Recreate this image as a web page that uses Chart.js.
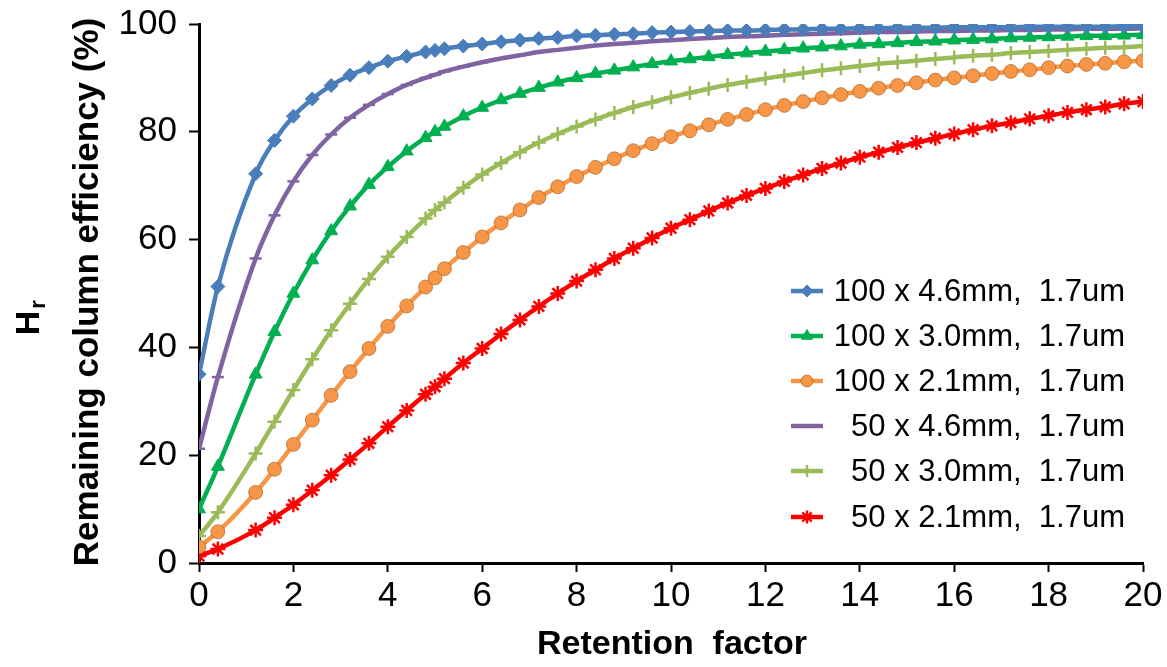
<!DOCTYPE html>
<html>
<head>
<meta charset="utf-8">
<script src="https://cdn.jsdelivr.net/npm/chart.js@4.4.1/dist/chart.umd.min.js"></script>
<style>
    html, body { margin: 0; padding: 0; background: #fff; }
    #wrap { width: 1167px; height: 667px; position: relative; }
</style>
</head>
<body>
<div id="wrap"><canvas id="hrChart"></canvas></div>
<script>
// retention factor k (x axis)
const retention = [0, 0.4, 1.2, 1.6, 2.0, 2.4, 2.8, 3.2, 3.6, 4.0, 4.4, 4.8, 5.0, 5.2, 5.6, 6.0, 6.4, 6.8, 7.2, 7.6,
    8.0, 8.4, 8.8, 9.2, 9.6, 10.0, 10.4, 10.8, 11.2, 11.6, 12.0, 12.4, 12.8, 13.2, 13.6, 14.0, 14.4, 14.8, 15.2, 15.6,
    16.0, 16.4, 16.8, 17.2, 17.6, 18.0, 18.4, 18.8, 19.2, 19.6, 20.0];

// remaining column efficiency Hr (%)
const col100x46 = [35.0, 51.3, 72.2, 78.4, 82.9, 86.1, 88.6, 90.5, 91.9, 93.1, 94.0, 94.8, 95.1, 95.4, 95.9, 96.3, 96.7, 97.0, 97.3, 97.5,
    97.8, 97.9, 98.1, 98.2, 98.4, 98.5, 98.6, 98.7, 98.8, 98.8, 98.9, 99.0, 99.0, 99.1, 99.1, 99.2, 99.2, 99.3, 99.3, 99.3,
    99.4, 99.4, 99.4, 99.4, 99.5, 99.5, 99.5, 99.5, 99.5, 99.6, 99.6];
const col100x30 = [10.0, 17.9, 35.0, 42.9, 50.0, 56.2, 61.6, 66.2, 70.2, 73.5, 76.4, 78.9, 80.0, 81.0, 82.9, 84.5, 85.9, 87.1, 88.2, 89.2,
    90.0, 90.8, 91.4, 92.0, 92.6, 93.1, 93.5, 93.9, 94.3, 94.6, 94.9, 95.2, 95.5, 95.7, 95.9, 96.2, 96.3, 96.5, 96.7, 96.8,
    97.0, 97.1, 97.2, 97.4, 97.5, 97.6, 97.7, 97.8, 97.8, 97.9, 98.0];
const col100x21 = [3.0, 5.8, 13.1, 17.4, 22.0, 26.5, 31.1, 35.5, 39.8, 43.9, 47.7, 51.2, 52.9, 54.6, 57.6, 60.5, 63.1, 65.5, 67.8, 69.8,
    71.7, 73.4, 75.0, 76.5, 77.8, 79.1, 80.2, 81.3, 82.3, 83.2, 84.1, 84.9, 85.6, 86.3, 86.9, 87.5, 88.1, 88.6, 89.1, 89.6,
    90.0, 90.4, 90.8, 91.2, 91.5, 91.9, 92.2, 92.5, 92.7, 93.0, 93.2];
const col50x46 = [21.2, 34.5, 56.5, 64.5, 70.8, 75.7, 79.5, 82.6, 85.0, 87.0, 88.7, 90.0, 90.6, 91.2, 92.1, 92.9, 93.6, 94.2, 94.8, 95.2,
    95.6, 96.0, 96.3, 96.5, 96.8, 97.0, 97.2, 97.4, 97.6, 97.7, 97.8, 98.0, 98.1, 98.2, 98.3, 98.4, 98.5, 98.5, 98.6, 98.7,
    98.7, 98.8, 98.8, 98.9, 98.9, 99.0, 99.0, 99.1, 99.1, 99.1, 99.2];
const col50x30 = [5.0, 9.4, 20.3, 26.2, 32.1, 37.8, 43.2, 48.1, 52.7, 56.8, 60.5, 63.9, 65.5, 66.9, 69.6, 72.1, 74.2, 76.2, 78.0, 79.6,
    81.0, 82.3, 83.5, 84.6, 85.5, 86.4, 87.2, 88.0, 88.7, 89.3, 89.9, 90.4, 90.9, 91.4, 91.8, 92.2, 92.6, 92.9, 93.2, 93.5,
    93.8, 94.1, 94.3, 94.6, 94.8, 95.0, 95.2, 95.4, 95.6, 95.7, 95.9];
const col50x21 = [1.3, 2.6, 6.1, 8.4, 10.8, 13.5, 16.3, 19.2, 22.2, 25.3, 28.3, 31.3, 32.7, 34.2, 37.1, 39.8, 42.5, 45.1, 47.6, 50.0,
    52.3, 54.4, 56.5, 58.4, 60.3, 62.1, 63.7, 65.3, 66.8, 68.2, 69.5, 70.8, 72.0, 73.2, 74.2, 75.3, 76.2, 77.1, 78.0, 78.8,
    79.6, 80.4, 81.1, 81.7, 82.4, 83.0, 83.6, 84.1, 84.6, 85.2, 85.6];

const seriesLabels = ["100 x 4.6mm,  1.7um", "100 x 3.0mm,  1.7um", "100 x 2.1mm,  1.7um",
    "50 x 4.6mm,  1.7um", "50 x 3.0mm,  1.7um", "50 x 2.1mm,  1.7um"];
const xTicks = [0, 2, 4, 6, 8, 10, 12, 14, 16, 18, 20];
const yTicks = [0, 20, 40, 60, 80, 100];

const FONT = "'Liberation Sans', Arial, sans-serif";

function points(ys) {
    return retention.map((x, i) => ({ x: x, y: ys[i] }));
}

function series(label, ys, color, style, radius, extra) {
    return Object.assign({
        label: label,
        data: points(ys),
        borderColor: color,
        backgroundColor: color,
        borderWidth: 4.5,
        pointStyle: style,
        pointRadius: radius,
        pointBackgroundColor: color,
        pointBorderColor: color,
        pointBorderWidth: 1,
        cubicInterpolationMode: "monotone",
    }, extra || {});
}

// custom legend (line sample + marker, right-aligned labels)
const legendPlugin = {
    id: "sideLegend",
    afterDraw(chart) {
        const ctx = chart.ctx;
        const rows = [291, 336, 381, 426, 471, 517];
        ctx.save();
        chart.data.datasets.forEach((ds, i) => {
            const y = rows[i];
            ctx.strokeStyle = ds.borderColor;
            ctx.lineWidth = 4.5;
            ctx.beginPath();
            ctx.moveTo(791, y);
            ctx.lineTo(823, y);
            ctx.stroke();
            ctx.fillStyle = ds.pointBackgroundColor;
            ctx.strokeStyle = ds.pointBorderColor;
            ctx.lineWidth = ds.pointBorderWidth;
            if (ds.pointStyle !== "line") {
                Chart.helpers.drawPoint(ctx, {
                    pointStyle: ds.pointStyle,
                    radius: ds.pointRadius - 1,
                    borderWidth: ds.pointBorderWidth,
                    rotation: 0,
                }, 807, y);
            }
            ctx.fillStyle = "#000";
            ctx.font = "31px " + FONT;
            ctx.textAlign = "right";
            ctx.textBaseline = "middle";
            ctx.fillText(ds.label, 1125, y + 1);
        });
        ctx.restore();
    },
};

// axis titles
const titlePlugin = {
    id: "axisTitles",
    afterDraw(chart) {
        const ctx = chart.ctx;
        ctx.save();
        ctx.fillStyle = "#000";
        ctx.font = "bold 34px " + FONT;
        ctx.textAlign = "center";
        ctx.textBaseline = "middle";
        ctx.fillText("Retention  factor", 672, 645);

        ctx.translate(88, 292);
        ctx.rotate(-Math.PI / 2);
        ctx.font = "bold 35px " + FONT;
        ctx.fillText("Remaining column efficiency (%)", 0, 0);
        ctx.restore();

        ctx.save();
        ctx.fillStyle = "#000";
        ctx.translate(30, 318);
        ctx.rotate(-Math.PI / 2);
        ctx.textBaseline = "middle";
        ctx.textAlign = "left";
        ctx.font = "bold 34px " + FONT;
        const hw = ctx.measureText("H").width;
        ctx.fillText("H", -hw / 2 - 5, 0);
        ctx.font = "bold 22px " + FONT;
        ctx.fillText("r", hw / 2 - 3, 9);
        ctx.restore();
    },
};

const chartEl = document.getElementById("hrChart");

new Chart(chartEl, {
    type: "line",
    data: {
        datasets: [
            series(seriesLabels[0], col100x46, "#4A7EBB", "rectRot", 7),
            series(seriesLabels[1], col100x30, "#00B050", "triangle", 7.5),
            series(seriesLabels[2], col100x21, "#F79646", "circle", 7, { pointBorderColor: "rgba(150,80,20,0.55)" }),
            series(seriesLabels[3], col50x46, "#8064A2", "line", 6, { pointBorderWidth: 2.5 }),
            series(seriesLabels[4], col50x30, "#9BBB59", "cross", 7, { pointBorderWidth: 2.5 }),
            series(seriesLabels[5], col50x21, "#FF0000", "star", 7.5, { pointBorderWidth: 2.5 }),
        ],
    },
    options: {
        responsive: true,
        maintainAspectRatio: false,
        animation: false,
        layout: {
            padding: { left: 0, right: 24, top: 24, bottom: 0 },
        },
        plugins: {
            legend: { display: false },
            tooltip: { enabled: false },
        },
        scales: {
            x: {
                type: "linear",
                min: 0,
                max: 20,
                afterFit(scale) { scale.height = 104; },
                afterBuildTicks(scale) { scale.ticks = xTicks.map(v => ({ value: v })); },
                border: { display: true, color: "#000", width: 3 },
                grid: { drawOnChartArea: false, drawTicks: true, tickLength: 9, tickWidth: 2, tickColor: "#000" },
                ticks: { color: "#000", font: { family: FONT, size: 35 }, padding: 3, maxRotation: 0 },
            },
            y: {
                type: "linear",
                min: 0,
                max: 100,
                afterFit(scale) { scale.width = 199; },
                afterBuildTicks(scale) { scale.ticks = yTicks.map(v => ({ value: v })); },
                border: { display: true, color: "#000", width: 3 },
                grid: { drawOnChartArea: false, drawTicks: true, tickLength: 10, tickWidth: 2, tickColor: "#000" },
                ticks: { color: "#000", font: { family: FONT, size: 35, lineHeight: 0.6 }, padding: 12 },
            },
        },
    },
    plugins: [legendPlugin, titlePlugin],
});
</script>
</body>
</html>
